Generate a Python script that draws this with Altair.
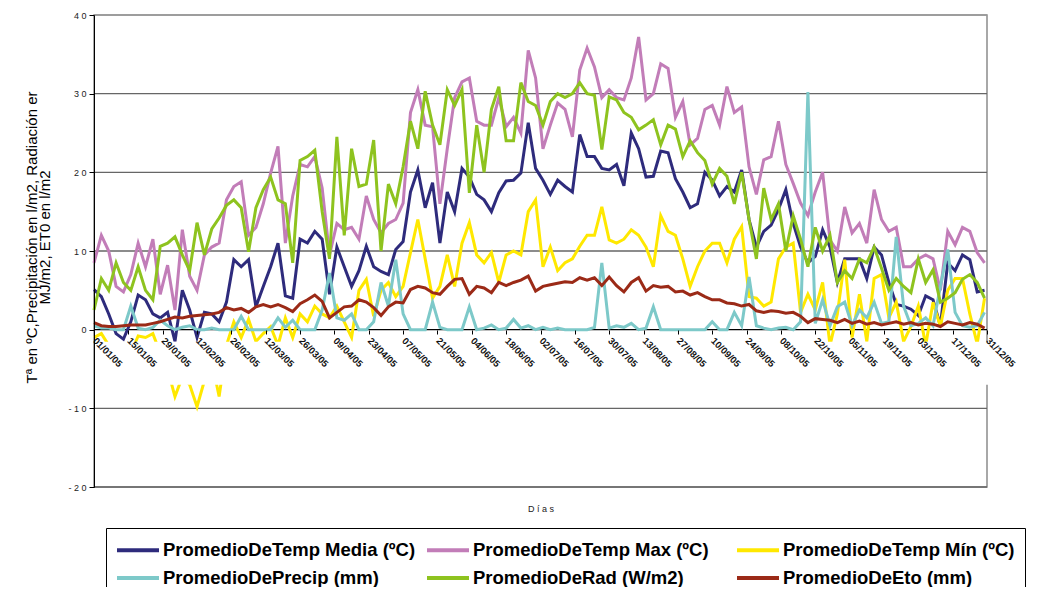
import altair as alt
import pandas as pd

series_names = [
    "PromedioDeTemp Media (ºC)",
    "PromedioDeTemp Max (ºC)",
    "PromedioDeTemp Mín (ºC)",
    "PromedioDePrecip (mm)",
    "PromedioDeRad (W/m2)",
    "PromedioDeEto (mm)",
]
series_colors = ["#2E2B7C", "#C27DB8", "#FFE800", "#7DC9C9", "#8EC31F", "#9B2A17"]

days = list(range(0, 366, 3))

temp_media = [
    5.1, 4.2, 2.0, -0.5, -1.2, 1.0, 4.4, 3.8, 2.0, 1.5,
    2.2, -1.5, 5.0, 2.5, -1.0, 2.2, 2.0, 1.0, 3.5, 8.9,
    8.0, 8.9, 2.9, 5.5, 8.0, 11.0, 4.3, 4.0, 11.5, 11.0,
    12.5, 11.5, 4.5, 10.5, 8.0, 5.5, 7.5, 10.6, 8.0, 7.4,
    7.0, 10.2, 11.2, 17.5, 20.3, 15.5, 18.7, 11.0, 17.5, 15.0,
    20.5, 19.4, 17.2, 16.5, 15.0, 17.4, 18.9, 19.0, 19.9, 26.3,
    20.5, 19.0, 17.2, 19.0, 18.2, 17.5, 24.8, 22.0, 22.0, 20.5,
    20.3, 21.0, 18.3, 25.0, 23.0, 19.4, 19.5, 22.7, 22.5, 19.2,
    17.5, 15.5, 16.0, 20.0, 19.0, 17.0, 18.2, 17.5, 20.3, 14.0,
    10.5, 12.5, 13.3, 15.3, 17.8, 13.5, 10.5, 8.5, 9.3, 12.7,
    10.5, 6.0, 9.0, 9.0, 9.0, 6.5, 10.5, 9.5, 6.0, 3.2,
    3.0, 2.6, 1.8, 4.3, 3.8, 0.5, 8.5, 7.5, 9.5, 8.9,
    4.8, 5.0,
]
temp_max = [
    8.5, 12.0, 10.0, 5.5, 4.8, 7.0, 11.0, 8.0, 11.5, 4.5,
    8.2, 2.5, 12.7, 6.8, 5.0, 9.5, 10.5, 11.0, 16.5, 18.2,
    18.8, 12.0, 13.0, 16.0, 19.9, 23.3, 11.0, 17.0, 21.0, 20.7,
    22.0, 18.0, 9.5, 13.5, 12.7, 13.0, 11.5, 17.0, 14.0, 12.3,
    13.5, 14.0, 16.1, 27.6, 30.5, 26.0, 25.8, 16.0, 23.0, 29.5,
    31.5, 32.0, 26.5, 26.0, 26.0, 29.5, 25.8, 27.0, 25.0, 35.5,
    32.0, 23.0, 26.0, 28.8, 28.0, 24.5, 33.0, 35.8, 33.4, 29.5,
    30.5, 29.5, 29.2, 32.0, 37.2, 29.2, 30.0, 33.8, 33.2, 27.0,
    29.0, 23.5, 24.3, 28.0, 28.5, 26.0, 30.9, 27.6, 28.3, 20.7,
    17.2, 21.6, 22.0, 26.5, 21.0, 18.6, 16.1, 14.5, 17.5, 20.0,
    11.4, 10.0, 15.6, 12.3, 13.5, 11.0, 17.8, 14.0, 12.5, 13.0,
    8.0, 8.0, 9.0, 9.5, 9.0, 5.0, 12.5, 10.8, 13.0, 12.5,
    9.8, 8.5,
]
temp_min = [
    -1.0, -0.5, -2.0, -3.0, -2.5, -3.0, -0.8, -1.0, -0.5, -3.0,
    -5.0, -8.5, -6.0, -7.0, -9.8, -6.5, -4.0, -8.5, -2.0, 1.0,
    -1.0, 1.3, -1.5, -0.5, 0.4, -2.0, 1.5, -1.0, 2.0, 1.0,
    3.0, 2.0, 1.5, 3.0, 1.0, -1.0, 5.0, 6.4, 1.7, 5.0,
    6.0, 4.2, 5.5, 9.8, 14.0, 9.0, 4.0, 5.5, 9.5, 5.5,
    11.0, 13.6, 9.5, 8.5, 9.8, 6.0, 9.5, 10.0, 9.5, 15.0,
    16.5, 8.0, 10.5, 7.5, 8.5, 9.0, 10.6, 12.0, 12.0, 15.6,
    11.4, 11.0, 11.5, 12.7, 12.0, 10.5, 8.0, 14.5, 12.5, 12.0,
    9.0, 5.5, 8.0, 10.0, 11.0, 11.0, 8.5, 11.5, 13.1, 4.2,
    4.0, 3.0, 3.5, 9.0, 10.5, 11.0, 2.2, 4.5, 2.5, 6.0,
    -2.0, 2.0, 8.9, -1.0, 4.5, -1.5, 6.5, 7.0, 1.5, 3.5,
    -1.5, 0.4, 3.0, -2.0, 3.5, 0.4, 5.0, 6.5, 6.5, 2.0,
    -1.8, 4.0,
]
precip = [
    0.5, 0.2, 0.2, 0.0, 0.0, 3.0, 0.2, 0.0, 0.3, 1.2,
    0.5, 0.0, 0.3, 0.5, 0.0, 0.0, 0.2, 0.0, 0.0, 0.0,
    1.7, 0.0, 0.0, 0.0, 0.0, 1.5, 0.3, 1.2, 0.0, 0.0,
    0.0, 2.5, 7.2, 1.5, 1.2, 2.0, 0.0, 0.0, 1.0, 6.0,
    3.0, 8.9, 2.0, 0.0, 0.0, 0.0, 3.5, 0.3, 0.0, 0.0,
    0.0, 2.9, 0.0, 0.2, 0.6, 0.0, 0.2, 1.3, 0.2, 0.5,
    0.0, 0.3, 0.0, 0.2, 0.0, 0.0, 0.0, 0.0, 0.3, 8.5,
    0.2, 0.5, 0.3, 0.8, 0.0, 0.2, 2.9, 0.0, 0.0, 0.0,
    0.0, 0.0, 0.0, 0.0, 1.0, 0.0, 0.0, 2.2, 0.5, 6.7,
    0.5, 0.2, 0.0, 0.2, 0.3, 0.0, 1.0, 30.2, 0.8, 3.8,
    0.5, 2.9, 3.5, 0.5, 2.5, 1.5, 3.5, 0.8, 1.0, 11.8,
    3.0, 0.5, 0.8, 1.5, 0.5, 5.5, 10.2, 2.2, 0.5, 0.3,
    0.5, 2.2,
]
rad = [
    2.5, 6.5, 5.0, 8.5, 6.0, 5.0, 8.0, 5.0, 3.8, 10.6,
    11.0, 11.8, 9.5, 7.5, 13.6, 9.5, 12.8, 14.2, 15.8, 16.5,
    15.5, 9.9, 15.5, 17.8, 19.4, 16.5, 16.0, 8.5, 21.5, 22.0,
    22.8, 15.0, 9.0, 24.5, 12.0, 23.0, 18.2, 18.5, 24.1, 10.0,
    18.5, 16.0, 20.7, 26.5, 23.0, 30.3, 26.0, 23.5, 30.5, 28.5,
    30.5, 17.4, 26.0, 20.0, 28.0, 30.9, 24.0, 24.0, 31.4, 29.0,
    28.5, 26.0, 29.0, 30.0, 29.5, 30.0, 31.4, 30.0, 29.8, 22.9,
    29.6, 29.2, 27.6, 27.0, 25.4, 26.0, 26.7, 23.5, 26.0, 25.5,
    22.0, 24.0, 22.5, 21.5, 18.5, 20.5, 19.5, 16.0, 20.0, 14.0,
    9.0, 18.0, 14.0, 16.0, 10.0, 14.5, 11.5, 8.0, 13.0, 10.0,
    12.0, 6.0, 7.5, 6.5, 9.0, 8.5, 10.5, 7.8, 5.0, 6.5,
    5.5, 4.7, 9.0, 6.0, 7.6, 3.5, 4.0, 4.7, 6.4, 7.0,
    6.0, 4.0,
]
eto = [
    0.9, 0.5, 0.4, 0.4, 0.5, 0.6, 0.6, 0.6, 0.8, 1.0,
    1.3, 1.6, 1.5, 1.7, 1.8, 1.9, 2.0, 2.2, 2.8, 2.5,
    2.7, 2.2, 2.9, 3.2, 2.9, 3.2, 2.8, 2.3, 3.3, 3.8,
    4.4, 3.6, 1.5, 2.2, 2.9, 3.0, 3.8, 3.5, 2.8, 1.8,
    2.9, 3.5, 3.4, 5.1, 5.5, 5.3, 4.7, 4.5, 5.5, 6.4,
    6.5, 4.5, 5.5, 5.3, 4.7, 6.0, 5.6, 6.0, 6.3, 6.8,
    4.9, 5.5, 5.7, 5.9, 6.1, 6.0, 6.6, 6.3, 6.6, 5.6,
    6.7, 5.6, 4.8, 6.0, 6.6, 4.9, 5.6, 5.4, 5.5, 4.8,
    4.9, 4.4, 4.7, 4.2, 3.8, 3.8, 3.4, 3.3, 3.0, 3.2,
    2.4, 2.2, 2.4, 2.3, 2.1, 2.2, 1.7, 0.9, 1.4, 1.3,
    1.2, 0.9, 1.3, 0.8, 1.1, 0.7, 0.9, 0.6, 0.8, 1.0,
    0.7, 0.9, 0.6, 0.8, 0.7, 0.4, 1.0, 0.8, 0.6, 0.9,
    0.7, 0.2,
]

tick_days = list(range(0, 365, 14))
tick_labels = [
    "01/01/05", "15/01/05", "29/01/05", "12/02/05", "26/02/05", "12/03/05",
    "26/03/05", "09/04/05", "23/04/05", "07/05/05", "21/05/05", "04/06/05",
    "18/06/05", "02/07/05", "16/07/05", "30/07/05", "13/08/05", "27/08/05",
    "10/09/05", "24/09/05", "08/10/05", "22/10/05", "05/11/05", "19/11/05",
    "03/12/05", "17/12/05", "31/12/05",
]
y_ticks = [-20, -10, 0, 10, 20, 30, 40]

y_title = ["Tª en ºC,Precipitación en l/m2, Radiación er", "MJ/m2, ET0 en l/m2"]
x_title = "D í a s"

all_values = [temp_media, temp_max, temp_min, precip, rad, eto]
rows = []
for name, vals in zip(series_names, all_values):
    for d, v in zip(days, vals):
        rows.append({"dia": d, "valor": v, "serie": name})
df = pd.DataFrame(rows)

W, H = 893, 472
band_top, band_bottom = -1.55, -7.0

label_array = "[" + ",".join("'" + s + "'" for s in tick_labels) + "]"

x_enc = alt.X(
    "dia:Q",
    scale=alt.Scale(domain=[0, 364], nice=False, zero=False),
    axis=alt.Axis(
        values=tick_days,
        labelExpr=label_array + "[round(datum.value/14)]",
        labelAngle=45,
        labelAlign="left",
        labelBaseline="middle",
        labelFontSize=9.5,
        labelFontWeight="bold",
        labelColor="#111111",
        labelPadding=5,
        labelOverlap=False,
        offset=-157,
        domain=False,
        ticks=True,
        tickSize=4,
        tickColor="black",
        grid=False,
        title=x_title,
        titleFontSize=9,
        titleFontWeight="normal",
        titleColor="#222222",
        titleY=174,
        zindex=1,
    ),
)
y_enc = alt.Y(
    "valor:Q",
    scale=alt.Scale(domain=[-20, 40], nice=False, zero=False),
    axis=alt.Axis(
        values=y_ticks,
        labelExpr="join(split(toString(datum.value), ''), '\u00a0')",
        labelFontSize=9,
        labelColor="#222222",
        labelPadding=3,
        tickSize=5,
        tickColor="black",
        domainColor="black",
        grid=False,
        title=y_title,
        titleFontSize=15,
        titleFontWeight="normal",
        titleColor="black",
        titleAngle=270,
        titleAlign="center",
        titleBaseline="middle",
        titleX=-63,
        titleY=222,
        titleLineHeight=13,
        zindex=1,
    ),
)
color_enc = alt.Color(
    "serie:N",
    title=None,
    scale=alt.Scale(domain=series_names, range=series_colors),
    legend=alt.Legend(
        orient="none",
        legendX=12,
        legendY=513,
        direction="horizontal",
        columns=3,
        gridAlign="all",
        symbolType="M-1.1,0H3.1",
        symbolSize=400,
        symbolStrokeWidth=4,
        labelFont="Liberation Sans",
        labelFontSize=18.5,
        labelFontWeight="bold",
        labelColor="black",
        labelLimit=600,
        labelOffset=23,
        columnPadding=3,
        rowPadding=6,
        padding=10,
        strokeColor="black",
        fillColor="white",
    ),
)

grid = alt.Chart(pd.DataFrame({"valor": y_ticks})).mark_rule(strokeWidth=1.3).encode(
    y=y_enc,
    color=alt.when(alt.datum.valor == 0)
    .then(alt.value("black"))
    .when(alt.datum.valor == 40)
    .then(alt.value("#9a9a9a"))
    .otherwise(alt.value("#666666")),
)

lines = [
    alt.Chart(df)
    .transform_filter(alt.datum.serie == name)
    .mark_line(strokeWidth=3)
    .encode(x=x_enc, y=y_enc, color=color_enc)
    for name in series_names
]

band = alt.Chart(pd.DataFrame({"valor": [band_top], "valor2": [band_bottom]})).mark_rect(
    color="white"
).encode(y=y_enc, y2="valor2:Q", x=alt.value(0), x2=alt.value(W + 45))

chart = (
    alt.layer(grid, *lines, band)
    .properties(
        width=W,
        height=H,
        autosize=alt.AutoSizeParams(type="none"),
        padding={"left": 86, "top": 7, "right": 43, "bottom": 100},
        background="white",
    )
    .configure(font="Liberation Sans")
    .configure_view(stroke="#8c8c8c", strokeWidth=1.5)
)

chart.save("out.html", embed_options={"renderer": "svg", "actions": False})
